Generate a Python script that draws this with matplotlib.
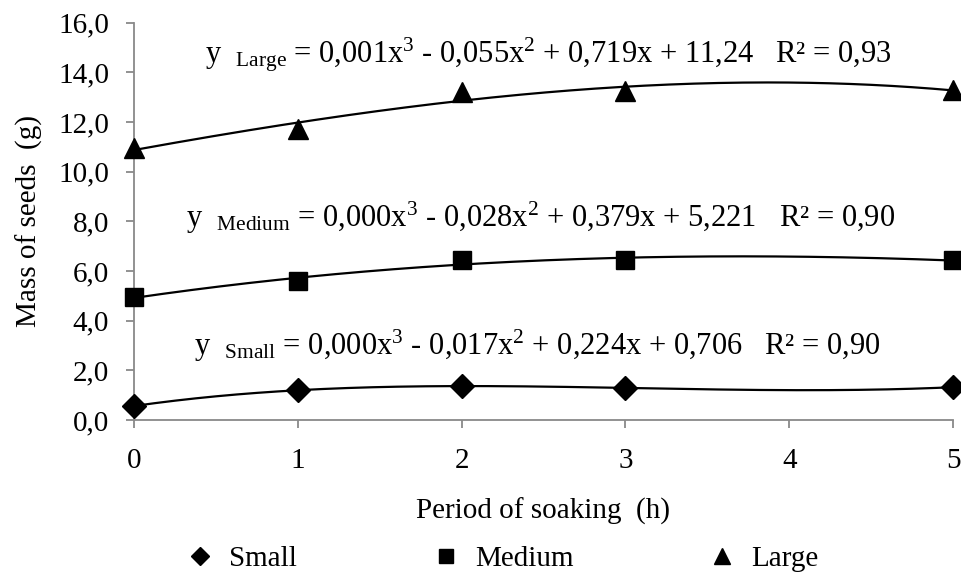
import numpy as np
import matplotlib
matplotlib.use("Agg")
import matplotlib.pyplot as plt
from matplotlib.lines import Line2D

plt.rcParams['font.family'] = ['Liberation Serif', 'DejaVu Serif']
plt.rcParams['mathtext.fontset'] = 'custom'
plt.rcParams['mathtext.rm'] = 'Liberation Serif'
plt.rcParams['mathtext.it'] = 'Liberation Serif:italic'

# Dados
hours = [0, 1, 2, 3, 5]
small = [0.56, 1.21, 1.35, 1.30, 1.32]
medium = [4.95, 5.60, 6.43, 6.45, 6.43]
large = [10.94, 11.72, 13.20, 13.25, 13.29]

y_ticks = [0, 2, 4, 6, 8, 10, 12, 14, 16]
y_labels = ["0,0", "2,0", "4,0", "6,0", "8,0", "10,0", "12,0", "14,0", "16,0"]
x_ticks = [0, 1, 2, 3, 4, 5]

eq_large = r"y  $_{\mathrm{Large}}$ = 0,001x$^{3}$ - 0,055x$^{2}$ + 0,719x + 11,24   R² = 0,93"
eq_medium = r"y  $_{\mathrm{Medium}}$ = 0,000x$^{3}$ - 0,028x$^{2}$ + 0,379x + 5,221   R² = 0,90"
eq_small = r"y  $_{\mathrm{Small}}$ = 0,000x$^{3}$ - 0,017x$^{2}$ + 0,224x + 0,706   R² = 0,90"

series = [
    ("Small", small, "D", 12),
    ("Medium", medium, "s", 13),
    ("Large", large, "^", 14),
]

FS = 21

fig = plt.figure(figsize=(9.61, 5.77), dpi=100)
ax = fig.add_axes([0.1394, 0.2721, 0.8523, 0.6886])

xs = np.linspace(0, 5, 200)
for name, vals, mk, ms in series:
    # linha de tendência polinomial (grau 3)
    coef = np.polyfit(hours, vals, 3)
    ax.plot(xs, np.polyval(coef, xs), color="black", lw=1.6, zorder=2)
    ax.plot(hours, vals, linestyle="none", marker=mk, ms=ms, color="black",
            clip_on=False, zorder=3)

ax.set_xlim(0, 5)
ax.set_ylim(0, 16)
ax.set_xticks(x_ticks)
ax.set_yticks(y_ticks)
ax.set_yticklabels(y_labels)
ax.tick_params(labelsize=FS, color="#898989", width=1.3, length=6, direction="out")
ax.tick_params(axis="x", pad=14)
ax.tick_params(axis="y", pad=12)

for side in ["top", "right"]:
    ax.spines[side].set_visible(False)
for side in ["left", "bottom"]:
    ax.spines[side].set_color("#898989")
    ax.spines[side].set_linewidth(1.3)

ax.text(2.53, 14.4, eq_large, fontsize=22, va="baseline", ha="center")
ax.text(2.48, 7.77, eq_medium, fontsize=22, va="baseline", ha="center")
ax.text(2.46, 2.6, eq_small, fontsize=22, va="baseline", ha="center")

ax.set_xlabel("Period of soaking  (h)", fontsize=FS, labelpad=17)
ax.set_ylabel("Mass of seeds  (g)", fontsize=FS, labelpad=11)

handles = [Line2D([], [], linestyle="none", marker=mk, ms=ms * 0.8, color="black")
           for name, vals, mk, ms in series]
fig.legend(handles, [s[0] for s in series], loc="center", ncol=3,
           bbox_to_anchor=(0.521, 0.032), frameon=False, fontsize=FS,
           columnspacing=4.5, handletextpad=0.4, handlelength=1.2)

fig.savefig("out.png", dpi=100)
